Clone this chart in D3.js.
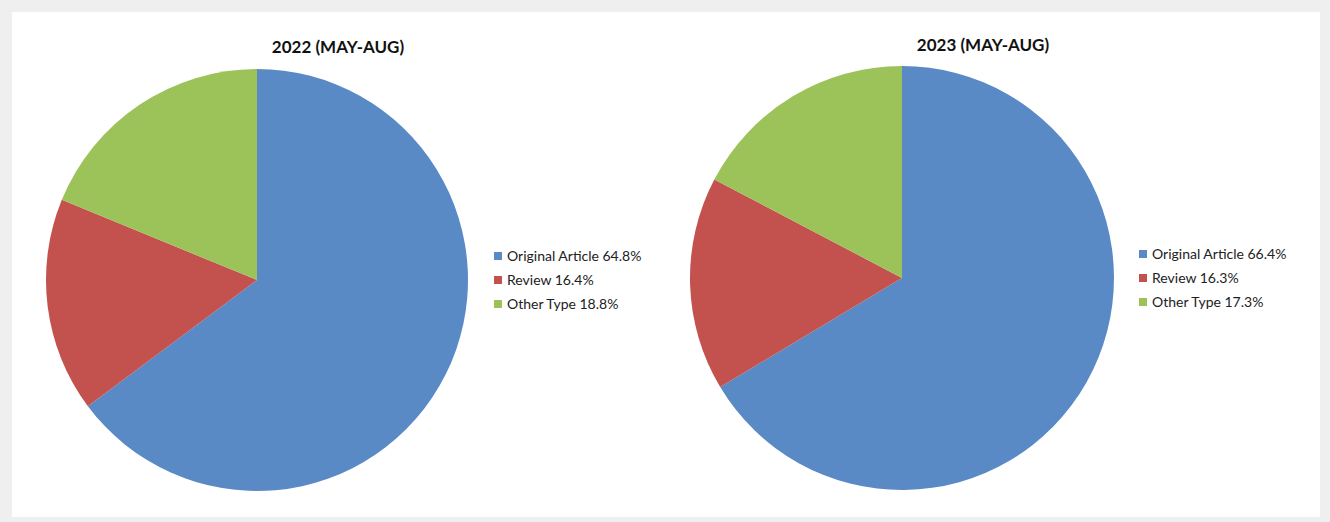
<!DOCTYPE html>
<html lang="en">
<head>
<meta charset="UTF-8" />
<title>Article types 2022 vs 2023 (May-Aug)</title>
<style>
  html, body { margin: 0; padding: 0; background: #efefef; }
  svg { display: block; font-family: Lato, "Open Sans", sans-serif; }
</style>
</head>
<body>
<svg width="1330" height="522"></svg>
<script src="https://d3js.org/d3.v7.min.js"></script>
<script>
// data
var categories = ["Original Article", "Review", "Other Type"];
var colors = ["#5a8ac6", "#c3514e", "#9cc25a"];
var titles = ["2022 (MAY-AUG)", "2023 (MAY-AUG)"];
var values2022 = [64.8, 16.4, 18.8];
var values2023 = [66.4, 16.3, 17.3];

var svg = d3.select("svg");

// white panel inside a grey frame
svg.append("rect")
    .attr("x", 12).attr("y", 12)
    .attr("width", 1308).attr("height", 505)
    .attr("fill", "#fff");

var color = d3.scaleOrdinal().domain(categories).range(colors);

var charts = [
    {title: titles[0], values: values2022, cx: 257, cy: 280, r: 211, tx: 338, ty: 53, lx: 494, ly: 256},
    {title: titles[1], values: values2023, cx: 902, cy: 278, r: 212, tx: 983, ty: 51, lx: 1139, ly: 254}
];

var pie = d3.pie().sort(null).value(function(d) { return d.v; });

charts.forEach(function(c) {
    var data = categories.map(function(k, i) { return {k: k, v: c.values[i]}; });
    var arc = d3.arc().innerRadius(0).outerRadius(c.r);

    var g = svg.append("g").attr("transform", "translate(" + c.cx + "," + c.cy + ")");
    g.selectAll("path")
        .data(pie(data))
        .enter().append("path")
        .attr("d", arc)
        .attr("fill", function(d) { return color(d.data.k); });

    svg.append("text")
        .attr("x", c.tx).attr("y", c.ty)
        .attr("text-anchor", "middle")
        .attr("font-size", "17px")
        .attr("font-weight", "bold")
        .attr("fill", "#111")
        .text(c.title);

    // legend
    var legend = svg.append("g")
        .attr("transform", "translate(" + c.lx + "," + c.ly + ")")
        .selectAll("g")
        .data(data)
        .enter().append("g")
        .attr("transform", function(d, i) { return "translate(0," + i * 24 + ")"; });

    legend.append("rect")
        .attr("x", 0).attr("y", -4)
        .attr("width", 8).attr("height", 8)
        .attr("fill", function(d) { return color(d.k); });

    legend.append("text")
        .attr("x", 13)
        .attr("dy", "0.35em")
        .attr("font-size", "14px")
        .attr("fill", "#222")
        .text(function(d) { return d.k + " " + d.v.toFixed(1) + "%"; });
});
</script>
</body>
</html>
